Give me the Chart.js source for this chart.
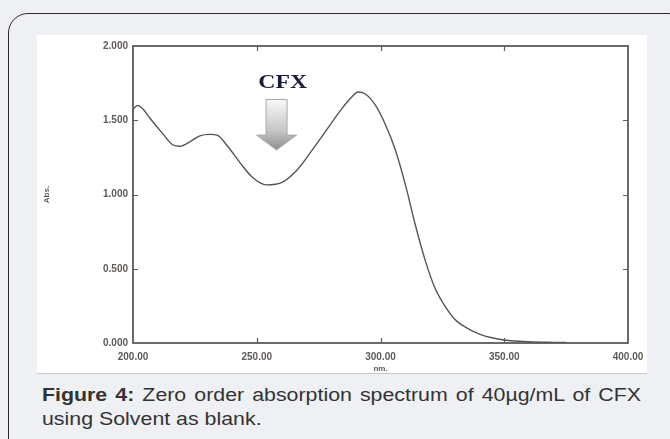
<!DOCTYPE html>
<html>
<head>
<meta charset="utf-8">
<script src="https://cdn.jsdelivr.net/npm/chart.js@4.4.1/dist/chart.umd.min.js"></script>
<style>
  html, body { margin:0; padding:0; background:#eef0f3; width:670px; height:439px; overflow:hidden; }
  #card { position:absolute; left:8px; top:13px; width:680px; height:450px; border:1px solid #2a2a2a; border-radius:20px; background:#eef0f3; box-sizing:border-box; }
  #panel { position:absolute; left:37px; top:35px; width:610px; height:338px; background:#ffffff; border-bottom:1px solid #c8c8c8; }
  #wrap { position:absolute; left:37px; top:35px; width:630px; height:338px; }
  #caption { position:absolute; left:42px; top:383px; width:491px; transform:scaleX(1.22); transform-origin:0 0; font-family:"Liberation Sans", Arial, sans-serif; font-size:17.5px; line-height:24px; color:#333; }
  #caption .l1 { text-align:justify; text-align-last:justify; }
</style>
</head>
<body>
<div id="card"></div>
<div id="panel"></div>
<div id="wrap"><canvas id="c" width="630" height="338"></canvas></div>
<div id="caption"><div class="l1"><b>Figure 4:</b> Zero order absorption spectrum of 40µg/mL of CFX</div><div>using Solvent as blank.</div></div>
<script>
const wavelengths = [200,202,204,207,212,216,219,223,227,231,234,238,243,248,254,260,266,272,278,284,288,291,294,298,302,306,310,314,318,322,326,330,335,340,345,350,360,370,375];
const absorbance  = [1.575,1.60,1.575,1.51,1.41,1.335,1.325,1.355,1.395,1.405,1.40,1.33,1.22,1.12,1.065,1.08,1.16,1.29,1.43,1.57,1.65,1.69,1.675,1.60,1.47,1.30,1.07,0.80,0.56,0.37,0.25,0.16,0.10,0.06,0.035,0.02,0.008,0.004,0.003];
const xTicks = [200,250,300,350,400];
const yTicks = [0,0.5,1.0,1.5,2.0];
const xTitle = "nm.";
const yTitle = "Abs.";
const annotationText = "CFX";
const annotationX = 258;

const frameColor = "#5a5a5a";
const labelColor = "#5e5a58";

const framePlugin = {
  id: 'frame',
  afterDraw(chart) {
    const ctx = chart.ctx;
    const a = chart.chartArea;
    const xs = chart.scales.x, ys = chart.scales.y;
    ctx.save();
    ctx.strokeStyle = frameColor;
    ctx.lineWidth = 1.8;
    ctx.strokeRect(a.left, a.top, a.right - a.left, a.bottom - a.top);
    ctx.lineWidth = 1.2;
    const tl = 5;
    ctx.beginPath();
    xTicks.slice(1, -1).forEach(v => {
      const px = Math.round(xs.getPixelForValue(v)) + 0.5;
      ctx.moveTo(px, a.bottom); ctx.lineTo(px, a.bottom - tl);
      ctx.moveTo(px, a.top); ctx.lineTo(px, a.top + tl);
    });
    yTicks.slice(1, -1).forEach(v => {
      const py = Math.round(ys.getPixelForValue(v)) + 0.5;
      ctx.moveTo(a.left, py); ctx.lineTo(a.left + tl, py);
      ctx.moveTo(a.right, py); ctx.lineTo(a.right - tl, py);
    });
    ctx.stroke();
    ctx.fillStyle = labelColor;
    ctx.font = "bold 8px 'Liberation Sans', Arial, sans-serif";
    ctx.textAlign = 'center';
    ctx.textBaseline = 'middle';
    ctx.fillText(xTitle, (a.left + a.right) / 2, a.bottom + 26);
    ctx.translate(a.left - 86, (a.top + a.bottom) / 2);
    ctx.rotate(-Math.PI / 2);
    ctx.fillText(yTitle, 0, 0);
    ctx.restore();

    ctx.save();
    const cx = xs.getPixelForValue(annotationX);
    const shaftTop = ys.getPixelForValue(1.64);
    const headTop = ys.getPixelForValue(1.40);
    const tip = ys.getPixelForValue(1.30);
    const sw = 10.5, hw = 20;
    const g = ctx.createLinearGradient(0, shaftTop, 0, tip);
    g.addColorStop(0, '#f8f8f8');
    g.addColorStop(0.6, '#c8c8c8');
    g.addColorStop(1, '#8e8e8e');
    ctx.beginPath();
    ctx.moveTo(cx - sw, shaftTop);
    ctx.lineTo(cx + sw, shaftTop);
    ctx.lineTo(cx + sw, headTop);
    ctx.lineTo(cx + hw, headTop);
    ctx.lineTo(cx, tip);
    ctx.lineTo(cx - hw, headTop);
    ctx.lineTo(cx - sw, headTop);
    ctx.closePath();
    ctx.fillStyle = g;
    ctx.fill();
    ctx.strokeStyle = '#a8a8a8';
    ctx.lineWidth = 1;
    ctx.stroke();
    ctx.fillStyle = '#1c1c3c';
    ctx.font = "bold 19px 'Liberation Serif', 'Times New Roman', serif";
    ctx.textAlign = 'center';
    ctx.textBaseline = 'middle';
    ctx.translate(xs.getPixelForValue(annotationX + 2.5), ys.getPixelForValue(1.75));
    ctx.scale(1.25, 1);
    ctx.fillText(annotationText, 0, 0);
    ctx.restore();
  }
};

new Chart(document.getElementById('c'), {
  type: 'line',
  data: {
    datasets: [{
      data: wavelengths.map((w, i) => ({ x: w, y: absorbance[i] })),
      borderColor: '#555555',
      borderWidth: 1.4,
      pointRadius: 0,
      fill: false,
      cubicInterpolationMode: 'monotone'
    }]
  },
  options: {
    responsive: false,
    animation: false,
    events: [],
    layout: { padding: { top: 6, right: 39, left: 0, bottom: 0 } },
    plugins: { legend: { display: false }, tooltip: { enabled: false } },
    scales: {
      x: {
        type: 'linear', min: 200, max: 400,
        afterBuildTicks: s => { s.ticks = xTicks.map(v => ({ value: v })); },
        afterFit: s => { s.height = 30; },
        grid: { display: false, drawTicks: false },
        border: { display: false },
        ticks: {
          padding: 8,
          color: labelColor,
          font: { family: "'Liberation Sans', Arial, sans-serif", size: 10, weight: 'bold' },
          callback: v => Number(v).toFixed(2),
          maxRotation: 0
        }
      },
      y: {
        type: 'linear', min: 0, max: 2,
        afterBuildTicks: s => { s.ticks = yTicks.map(v => ({ value: v })); },
        afterFit: s => { s.width = 96; },
        grid: { display: false, drawTicks: false },
        border: { display: false },
        ticks: {
          padding: 5,
          color: labelColor,
          font: { family: "'Liberation Sans', Arial, sans-serif", size: 10, weight: 'bold' },
          callback: v => Number(v).toFixed(3)
        }
      }
    }
  },
  plugins: [framePlugin]
});
</script>
</body>
</html>
